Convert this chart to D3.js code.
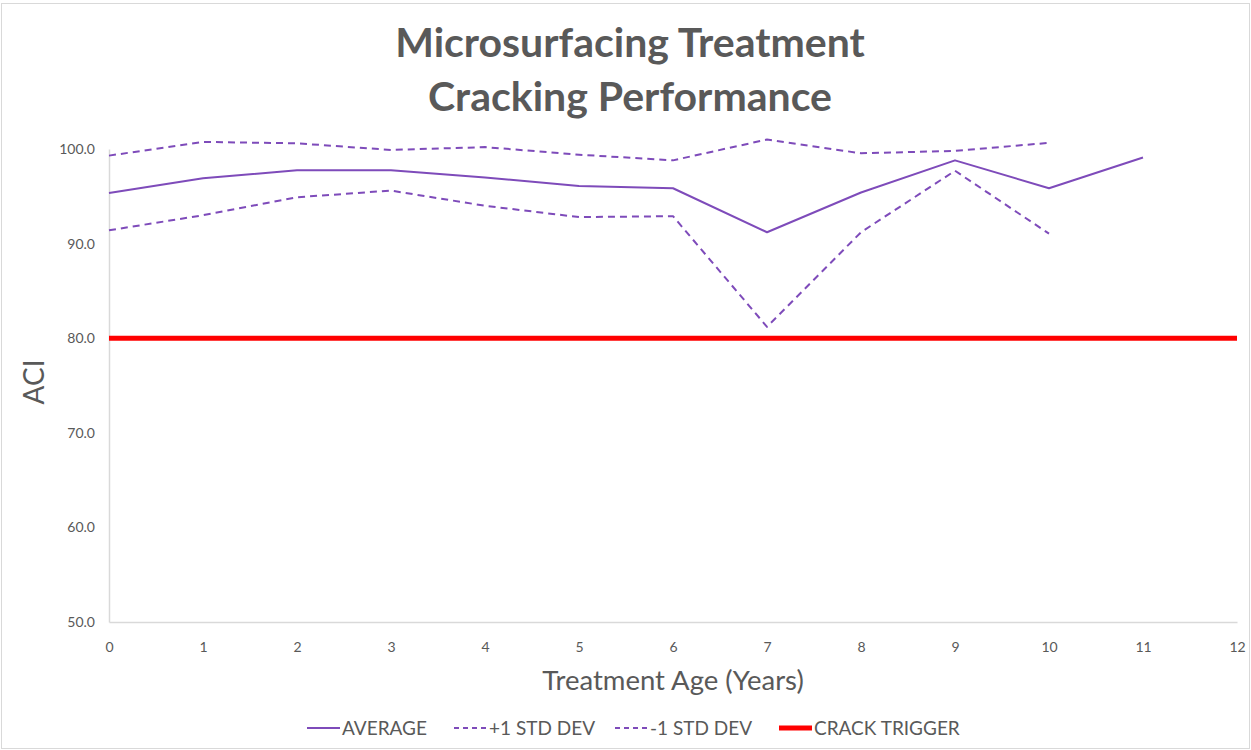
<!DOCTYPE html>
<html><head><meta charset="utf-8">
<script src="https://cdn.jsdelivr.net/npm/d3@7"></script>
<style>body{margin:0;background:#fff}svg{display:block}</style>
</head><body>
<svg id="c" width="1251" height="750"></svg>
<script>
const years = [0,1,2,3,4,5,6,7,8,9,10,11];
const average = [95.35,96.9,97.75,97.75,97.0,96.1,95.85,91.2,95.4,98.8,95.85,99.1];
const plusStd = [99.3,100.75,100.6,99.9,100.2,99.4,98.8,101.0,99.55,99.8,100.65];
const minusStd = [91.4,93.0,94.9,95.6,94.0,92.8,92.9,81.2,91.2,97.7,91.05];
const crackYears = [0,12];
const crackTrigger = [80,80];
const xTicks = [0,1,2,3,4,5,6,7,8,9,10,11,12];
const yTicks = [50,60,70,80,90,100];
const titleLines = ["Microsurfacing Treatment","Cracking Performance"];
const legendLabels = ["AVERAGE","+1 STD DEV","-1 STD DEV","CRACK TRIGGER"];

const svg = d3.select("#c");
const font = "Lato, 'Open Sans', sans-serif";
const grey = "#595959";
const purple = "#7E4BBA";

svg.append("rect").attr("x",1.5).attr("y",3.5).attr("width",1248).attr("height",745)
  .attr("fill","#fff").attr("stroke","#d9d9d9");

const x = d3.scaleLinear().domain([0,12]).range([109,1237]);
const y = d3.scaleLinear().domain([50,100]).range([622,149]);

// title
svg.selectAll("text.title").data(titleLines).join("text")
  .attr("x",630).attr("y",(d,i)=>57+i*54)
  .attr("text-anchor","middle").attr("font-family",font).attr("font-weight","bold")
  .attr("font-size",41).attr("fill",grey).text(d=>d);

// axes
const yAxis = svg.append("g").attr("transform","translate(109,0)")
  .call(d3.axisLeft(y).tickValues(yTicks).tickSize(0).tickPadding(14).tickFormat(d3.format(".1f")));
yAxis.select(".domain").attr("stroke","#d9d9d9").attr("stroke-width",1.5);
yAxis.selectAll("text").attr("font-family",font).attr("font-size",14).attr("fill",grey);

const xAxis = svg.append("g").attr("transform","translate(0,622)")
  .call(d3.axisBottom(x).tickValues(xTicks).tickSize(0).tickPadding(20).tickFormat(d3.format("d")));
xAxis.select(".domain").attr("stroke","#d9d9d9").attr("stroke-width",1.5);
xAxis.selectAll("text").attr("font-family",font).attr("font-size",14).attr("fill",grey);

svg.append("text").attr("transform","translate(44,382) rotate(-90)")
  .attr("text-anchor","middle").attr("font-family",font).attr("font-size",28).attr("fill",grey).text("ACI");
svg.append("text").attr("x",673).attr("y",690)
  .attr("text-anchor","middle").attr("font-family",font).attr("font-size",27.5).attr("fill",grey).text("Treatment Age (Years)");

// lines
const mk = vals => d3.line().x((d,i)=>x(years[i])).y(d=>y(d))(vals);

svg.append("path").attr("d", d3.line().x((d,i)=>x(crackYears[i])).y(d=>y(d))(crackTrigger))
  .attr("fill","none").attr("stroke","#FF0000").attr("stroke-width",5);
svg.append("path").attr("d",mk(plusStd)).attr("fill","none").attr("stroke",purple)
  .attr("stroke-width",2).attr("stroke-dasharray","7,5").attr("stroke-linejoin","round");
svg.append("path").attr("d",mk(minusStd)).attr("fill","none").attr("stroke",purple)
  .attr("stroke-width",2).attr("stroke-dasharray","7,5").attr("stroke-linejoin","round");
svg.append("path").attr("d",mk(average)).attr("fill","none").attr("stroke",purple)
  .attr("stroke-width",2).attr("stroke-linejoin","round");

// legend
const legendX = [307,454,615,779];
const legendStyle = [
  {c:purple,w:2,dash:null},{c:purple,w:2,dash:"5,4"},{c:purple,w:2,dash:"5,4"},{c:"#FF0000",w:5,dash:null}];
const lg = svg.selectAll("g.lg").data(legendLabels).join("g").attr("class","lg")
  .attr("transform",(d,i)=>`translate(${legendX[i]},728)`);
lg.append("line").attr("x1",0).attr("x2",33).attr("y1",0).attr("y2",0)
  .attr("stroke",(d,i)=>legendStyle[i].c).attr("stroke-width",(d,i)=>legendStyle[i].w)
  .attr("stroke-dasharray",(d,i)=>legendStyle[i].dash);
lg.append("text").attr("x",35).attr("y",7).attr("font-family",font).attr("font-size",19)
  .attr("fill",grey).text(d=>d);
</script>
</body></html>
